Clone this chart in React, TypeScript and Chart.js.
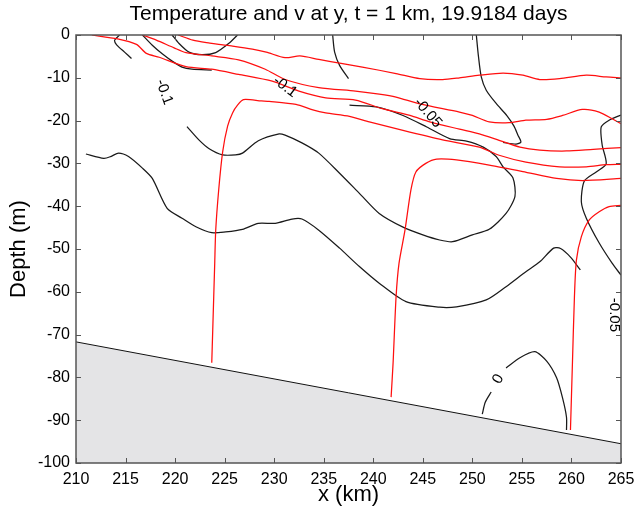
import React, { useEffect, useRef } from "react";
import { Chart, registerables } from "chart.js";

Chart.register(...registerables);

// ---- axes ----
const xTickValues = [210, 215, 220, 225, 230, 235, 240, 245, 250, 255, 260, 265];
const yTickValues = [0, -10, -20, -30, -40, -50, -60, -70, -80, -90, -100];

// ---- temperature contours (red) ----
const t1X = [220.3, 221.8, 223.5, 224.4, 225.8, 227.8, 229.2, 231.1, 232.6, 234.5, 236.9, 238.9, 242.3, 244.7, 247.0, 248.7, 250.7, 253.1, 255.1, 256.8, 258.8, 261.5, 263.5, 265];
const t1Y = [0, -1.2, -1.9, -2.2, -2.6, -3.3, -4.0, -5.3, -4.9, -5.7, -6.7, -7.5, -9.0, -10.2, -10.4, -10.0, -9.4, -8.9, -9.4, -10.4, -10.2, -9.4, -9.8, -10.0];

const t2X = [216.7, 218.1, 219.9, 221.1, 223.7, 226.4, 229.1, 231.1, 234.5, 238.2, 240.6, 242.3, 244.7, 248.7, 250.0, 251.7, 253.7, 255.4, 257.5, 259.1, 261.1, 262.8, 264.2, 265];
const t2Y = [0, -1.2, -3.0, -4.1, -4.9, -5.8, -8.0, -10.4, -12.3, -13.1, -13.8, -14.5, -16.1, -18.0, -18.8, -20.3, -20.5, -19.9, -19.7, -18.8, -17.4, -18.0, -19.7, -20.7];

const t3X = [211.6, 214.2, 216.1, 217.1, 218.4, 221.1, 223.7, 226.4, 229.8, 232.5, 235.2, 238.2, 240.9, 243.7, 245.7, 248.7, 250.7, 252.7, 254.8, 256.8, 259.5, 262.2, 265];
const t3Y = [0, -0.9, -2.2, -4.3, -5.2, -7.4, -8.0, -9.2, -10.8, -13.1, -14.7, -15.2, -17.2, -18.8, -20.3, -22.0, -23.1, -24.6, -26.2, -26.9, -27.1, -26.7, -26.3];

const t4X = [223.7, 223.8, 224.0, 224.1, 224.4, 224.8, 225.3, 225.8, 226.3, 226.9, 228.7, 229.5, 232.2, 233.9, 235.2, 237.6, 239.6, 243.0, 247.0, 250.7, 252.7, 255.4, 258.8, 261.5, 263.5, 265];
const t4Y = [-76.6, -68.9, -53.3, -45.6, -36.2, -27.3, -21.3, -18.2, -16.4, -15.1, -15.4, -15.5, -16.2, -17.5, -18.2, -19.0, -20.3, -22.3, -24.5, -26.2, -28.1, -29.7, -30.8, -30.8, -30.3, -30.2];

const t5X = [241.8, 242.0, 242.3, 242.6, 243.2, 243.8, 244.3, 245.3, 246.4, 248.4, 251.7, 255.1, 258.5, 261.1, 265];
const t5Y = [-84.6, -76.6, -61.2, -53.3, -45.6, -36.2, -32.0, -30.0, -29.0, -29.2, -30.4, -31.9, -33.5, -34.0, -33.5];

const t6X = [259.9, 260.1, 260.3, 260.5, 261.0, 261.8, 262.8, 263.8, 265];
const t6Y = [-92.3, -76.6, -61.2, -52.6, -47.1, -43.2, -41.3, -40.1, -39.8];

// ---- v contours (black) ----
const v1X = [214.4, 213.9, 214.1, 214.9, 215.6];
const v1Y = [0, -1.2, -2.3, -4.0, -5.5];

const v2X = [216.7, 217.7, 218.7, 219.7, 220.7, 221.7, 223.7];
const v2Y = [0, -2.4, -4.4, -6.1, -7.5, -8.0, -8.2];

const v3X = [219.7, 220.4, 221.4, 222.7, 224.1, 225.4, 226.3];
const v3Y = [0, -2.0, -4.0, -4.6, -4.1, -2.0, 0];

const v4X = [235.9, 236.1, 236.6, 237.5];
const v4Y = [0, -4.0, -7.1, -10.2];

const v5X = [250.4, 250.6, 250.9, 251.4, 252.4, 253.5, 254.2, 254.6, 254.9, 254.4, 253.1];
const v5Y = [0, -4.7, -9.8, -12.9, -16.0, -18.9, -21.3, -23.4, -25.0, -25.5, -25.1];

const v6X = [237.6, 240.3, 243.0, 245.4, 247.7, 249.4, 251.1, 252.4, 253.1, 254.1, 254.3, 253.4, 251.7, 250.0, 248.0, 246.7, 245.0, 243.0, 240.6, 238.6, 236.6, 234.5, 232.8, 231.1, 230.5, 228.4, 226.8, 226.1, 224.8, 223.4, 222.4, 221.2];
const v6Y = [-16.4, -16.8, -18.8, -21.5, -24.2, -24.8, -26.2, -28.4, -30.8, -33.4, -37.7, -41.7, -45.4, -46.7, -48.3, -47.9, -46.7, -44.9, -41.7, -37.0, -32.3, -27.6, -25.2, -23.4, -23.1, -24.7, -27.6, -28.0, -28.0, -26.5, -24.5, -21.4];

const v7X = [265, 263.8, 263.0, 263.1, 263.5, 262.5, 261.3, 261.0, 261.5, 262.8, 264.1, 265];
const v7Y = [-18.7, -19.9, -21.5, -25.7, -30.1, -32.0, -34.1, -39.0, -42.8, -48.6, -53.3, -56.1];

const v8X = [211.0, 212.8, 213.5, 214.3, 215.3, 216.7, 217.7, 219.2, 220.7, 222.1, 223.7, 225.1, 226.8, 228.4, 230.1, 231.8, 232.8, 234.5, 236.6, 238.6, 240.6, 243.3, 246.7, 248.4, 251.4, 253.4, 255.4, 256.8, 258.2, 258.9, 259.9, 260.9];
const v8Y = [-27.8, -28.8, -28.4, -27.6, -28.4, -31.1, -33.5, -40.5, -42.8, -44.8, -46.2, -46.0, -45.4, -44.0, -44.0, -43.0, -43.0, -45.6, -49.8, -54.1, -58.0, -62.3, -63.6, -63.5, -61.9, -58.8, -55.3, -53.0, -49.8, -49.9, -51.9, -54.9];

const v9aX = [251.0, 251.3, 251.9];
const v9aY = [-88.6, -85.8, -83.4];
const v9bX = [253.4, 254.8, 256.3, 257.5, 258.5, 259.1, 259.5, 259.5];
const v9bY = [-77.8, -75.4, -74.0, -76.2, -80.1, -84.8, -89.3, -92.3];

// ---- bottom topography ----
const bottomX = [210, 265];
const bottomY = [-71.7, -95.5];

// ---- contour labels ----
const labelTexts = ["-0.1", "-0.1", "-0.05", "-0.05", "0"];
const labelX = [218.9, 231.1, 245.5, 264.3, 252.6];
const labelY = [-13.3, -12.1, -18.2, -65.4, -80.4];

const LABEL_ANGLES = [70, 37, 49, 90, -60];
const FONT = "Helvetica, 'Liberation Sans', Arial, sans-serif";

function pts(xs: number[], ys: number[]) {
  return xs.map((x, i) => ({ x, y: ys[i] }));
}

const RED = "rgb(255,15,15)";
const BLACK = "#1a1a1a";

function line(xs: number[], ys: number[], color: string) {
  return {
    data: pts(xs, ys),
    showLine: true,
    borderColor: color,
    borderWidth: 1.25,
    pointRadius: 0,
    tension: 0.25,
    fill: false,
    order: 2,
  };
}

const framePlugin = {
  id: "framePlugin",
  afterDatasetsDraw(chart: any) {
    const { ctx, chartArea: a, scales } = chart;
    const xs = scales.x;
    const ys = scales.y;
    ctx.save();
    // contour labels
    ctx.fillStyle = "#000";
    ctx.font = `15px ${FONT}`;
    ctx.textAlign = "center";
    ctx.textBaseline = "middle";
    labelTexts.forEach((t, i) => {
      const px = xs.getPixelForValue(labelX[i]);
      const py = ys.getPixelForValue(labelY[i]);
      ctx.save();
      ctx.translate(px, py);
      ctx.rotate((LABEL_ANGLES[i] * Math.PI) / 180);
      ctx.fillText(t, 0, 0);
      ctx.restore();
    });
    // ticks inward
    ctx.strokeStyle = "#555";
    ctx.lineWidth = 1;
    const tl = 5;
    ctx.beginPath();
    xs.ticks.forEach((t: any) => {
      const px = Math.round(xs.getPixelForValue(t.value)) + 0.5;
      ctx.moveTo(px, a.bottom);
      ctx.lineTo(px, a.bottom - tl);
      ctx.moveTo(px, a.top);
      ctx.lineTo(px, a.top + tl);
    });
    ys.ticks.forEach((t: any) => {
      const py = Math.round(ys.getPixelForValue(t.value)) + 0.5;
      ctx.moveTo(a.left, py);
      ctx.lineTo(a.left + tl, py);
      ctx.moveTo(a.right, py);
      ctx.lineTo(a.right - tl, py);
    });
    ctx.stroke();
    ctx.lineWidth = 1.5;
    ctx.strokeStyle = "#555";
    ctx.strokeRect(a.left, a.top, a.right - a.left, a.bottom - a.top);
    ctx.restore();
  },
};

export default function App() {
  const ref = useRef<HTMLCanvasElement | null>(null);
  useEffect(() => {
    document.body.style.margin = "0";
    const canvas = ref.current;
    if (!canvas) return;
    const datasets: any[] = [
      {
        data: pts(bottomX, bottomY),
        showLine: true,
        borderColor: "#111",
        borderWidth: 1,
        backgroundColor: "#e4e4e6",
        pointRadius: 0,
        fill: "start",
        order: 1,
      },
      line(t1X, t1Y, RED),
      line(t2X, t2Y, RED),
      line(t3X, t3Y, RED),
      line(t4X, t4Y, RED),
      line(t5X, t5Y, RED),
      line(t6X, t6Y, RED),
      line(v1X, v1Y, BLACK),
      line(v2X, v2Y, BLACK),
      line(v3X, v3Y, BLACK),
      line(v4X, v4Y, BLACK),
      line(v5X, v5Y, BLACK),
      line(v6X, v6Y, BLACK),
      line(v7X, v7Y, BLACK),
      line(v8X, v8Y, BLACK),
      line(v9aX, v9aY, BLACK),
      line(v9bX, v9bY, BLACK),
    ];
    const chart = new Chart(canvas, {
      type: "scatter",
      data: { datasets },
      options: {
        responsive: false,
        animation: false,
        layout: { padding: { left: 0, right: 13, top: 0, bottom: 0 } },
        plugins: {
          legend: { display: false },
          tooltip: { enabled: false },
          title: {
            display: true,
            text: "Temperature and v at y, t = 1 km, 19.9184 days",
            fullSize: false,
            color: "#000",
            font: { family: FONT, size: 21, weight: "normal", lineHeight: 1.2 },
            padding: { top: 2, bottom: 7.8 },
          },
        },
        scales: {
          x: {
            type: "linear",
            min: 210,
            max: 265,
            afterBuildTicks: (s: any) => {
              s.ticks = xTickValues.map((v) => ({ value: v }));
            },
            afterFit: (s: any) => {
              s.height = 52;
              s.paddingLeft = 0;
              s.paddingRight = 0;
            },
            grid: { display: false, drawTicks: false },
            border: { display: false },
            ticks: { color: "#000", font: { family: FONT, size: 16 }, padding: 7, maxRotation: 0, autoSkip: false },
            title: {
              display: true,
              text: "x (km)",
              color: "#000",
              font: { family: FONT, size: 22 },
              padding: { top: 0, bottom: 7 },
            },
          },
          y: {
            type: "linear",
            min: -100,
            max: 0,
            afterBuildTicks: (s: any) => {
              s.ticks = yTickValues.map((v) => ({ value: v }));
            },
            afterFit: (s: any) => {
              s.width = 76;
              s.paddingTop = 0;
              s.paddingBottom = 0;
            },
            grid: { display: false, drawTicks: false },
            border: { display: false },
            ticks: { color: "#000", font: { family: FONT, size: 16 }, padding: 6, autoSkip: false },
            title: {
              display: true,
              text: "Depth (m)",
              color: "#000",
              font: { family: FONT, size: 22 },
              padding: { top: 6, bottom: 0 },
            },
          },
        },
      },
      plugins: [framePlugin],
    } as any);
    return () => chart.destroy();
  }, []);
  return <canvas ref={ref} width={634} height={515} style={{ display: "block" }} />;
}
